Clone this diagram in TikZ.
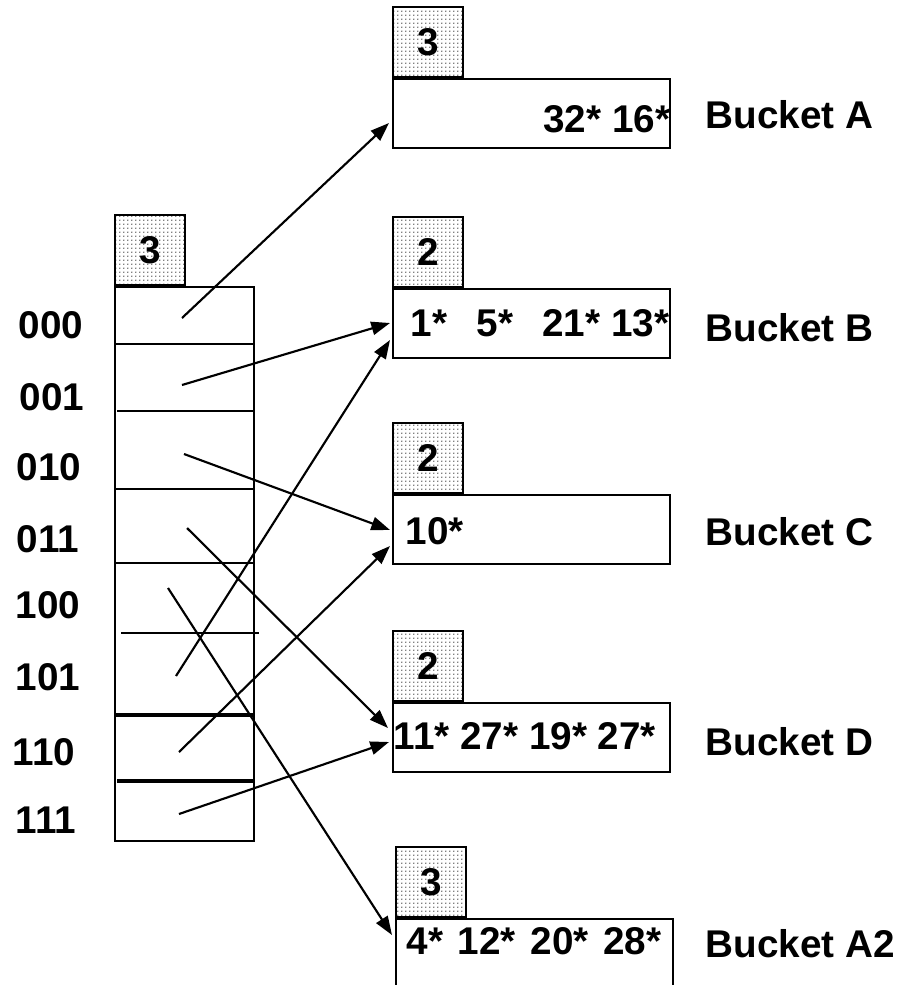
\documentclass[tikz,border=0pt]{standalone}
\usepackage{fontspec}
\setmainfont{Liberation Sans}
\usetikzlibrary{arrows.meta,patterns.meta,calc}

\tikzdeclarepattern{
  name=sparsedots,
  type=uncolored,
  bounding box={(0,0) and (3.2pt,3.2pt)},
  tile size={(3.2pt,3.2pt)},
  code={\pgfpathcircle{\pgfpoint{1.6pt}{1.6pt}}{0.55pt}\pgfusepath{fill}}
}

\tikzset{every picture/.style={line width=1pt}}
\tikzset{
  txt/.style={font=\fontsize{29}{34}\selectfont\bfseries, inner sep=0pt},
  depthbox/.style={draw, line width=1.6pt, pattern=sparsedots, minimum width=52.5pt, minimum height=52.5pt, inner sep=0pt, font=\fontsize{29}{34}\selectfont\bfseries},
  bucket/.style={draw, line width=1.6pt, minimum width=207.75pt, minimum height=51.75pt, inner sep=0pt},
  ptr/.style={line width=1.6pt, -{Triangle[length=14pt,width=10pt]}},
}

\begin{document}
\begin{tikzpicture}[x=0.75pt,y=0.75pt,yscale=-1,xscale=1]
\useasboundingbox (0,0) rectangle (911,985);
\clip (0,0) rectangle (911,985);

%Shape: Directory
\node[draw, line width=1.6pt, minimum width=104.25pt, minimum height=415.5pt, inner sep=0pt, anchor=north west] (dir) at (114,286) {};
\node[depthbox, anchor=south west] (gd) at (dir.north west) {3};
%Straight Lines (slot borders)
\draw [line width=2.2pt] (114,344) -- (253,344) ;
\draw [line width=1.6pt] (117,411) -- (254,411) ;
\draw [line width=2.2pt] (114,489) -- (253,489) ;
\draw [line width=1.6pt] (114,563) -- (254,563) ;
\draw [line width=2.2pt] (121,633) -- (259,633) ;
\draw [line width=2.4pt] (114,715) -- (253,715) ;
\draw [line width=2.4pt] (117,781) -- (254,781) ;

% Text Nodes (directory entries)
\node[txt, anchor=base west] (l000) at (18,338) {000};
\node[txt, anchor=base west] (l001) at (19,410) {001};
\node[txt, anchor=base west] (l010) at (16,480) {010};
\node[txt, anchor=base west] (l011) at (16,552) {011};
\node[txt, anchor=base west] (l100) at (15,618) {100};
\node[txt, anchor=base west] (l101) at (15,690) {101};
\node[txt, anchor=base west] (l110) at (12,765) {110};
\node[txt, anchor=base west] (l111) at (15,833) {111};

%Shape: Buckets
\node[bucket, anchor=north west] (bA) at (392,78) {};
\node[depthbox, anchor=south west] (dA) at (bA.north west) {3};
\node[bucket, anchor=north west] (bB) at (392,288) {};
\node[depthbox, anchor=south west] (dB) at (bB.north west) {2};
\node[bucket, anchor=north west] (bC) at (392,494) {};
\node[depthbox, anchor=south west] (dC) at (bC.north west) {2};
\node[bucket, anchor=north west] (bD) at (392,702) {};
\node[depthbox, anchor=south west] (dD) at (bD.north west) {2};
\node[bucket, anchor=north west] (bA2) at (395,918) {};
\node[depthbox, anchor=south west] (dA2) at (bA2.north west) {3};

% Text Nodes (bucket entries)
\node[txt, anchor=base east] (cA) at (671,132) {32* 16*};
\node[txt, anchor=base west] (cB) at (410,336) {1*\hspace{22pt}5*\hspace{22pt}21* 13*};
\node[txt, anchor=base west] (cC) at (405,544) {10*};
\node[txt, anchor=base west] (cD) at (393,749) {11* 27* 19* 27*};
\node[txt, anchor=base west] (cA2) at (406,954) {4*\hspace{11pt}12*\hspace{11pt}20*\hspace{11pt}28*};

% Text Nodes (bucket names)
\node[txt, anchor=base west] (nA) at (705,128) {Bucket A};
\node[txt, anchor=base west] (nB) at (705,341) {Bucket B};
\node[txt, anchor=base west] (nC) at (705,545) {Bucket C};
\node[txt, anchor=base west] (nD) at (705,755) {Bucket D};
\node[txt, anchor=base west] (nA2) at (705,957) {Bucket A2};

%Straight Lines (pointers)
\coordinate (s000) at (182,318);
\coordinate (s001) at (182,385);
\coordinate (s010) at (184,454);
\coordinate (s011) at (187,528);
\coordinate (s100) at (168,588);
\coordinate (s101) at (176,676);
\coordinate (s110) at (179,752);
\coordinate (s111) at (179,814);
\draw [ptr] (s000) -- ($(bA.north west)+(-3,45)$) ;
\draw [ptr] (s001) -- ($(bB.north west)+(-2,35)$) ;
\draw [ptr] (s010) -- ($(bC.north west)+(-2,36)$) ;
\draw [ptr] (s011) -- ($(bD.north west)+(-4,26)$) ;
\draw [ptr] (s100) -- ($(bA2.north west)+(-3,17)$) ;
\draw [ptr] (s101) -- ($(bB.north west)+(-2,52)$) ;
\draw [ptr] (s110) -- ($(bC.north west)+(-2,52)$) ;
\draw [ptr] (s111) -- ($(bD.north west)+(-3,40)$) ;

\end{tikzpicture}
\end{document}
